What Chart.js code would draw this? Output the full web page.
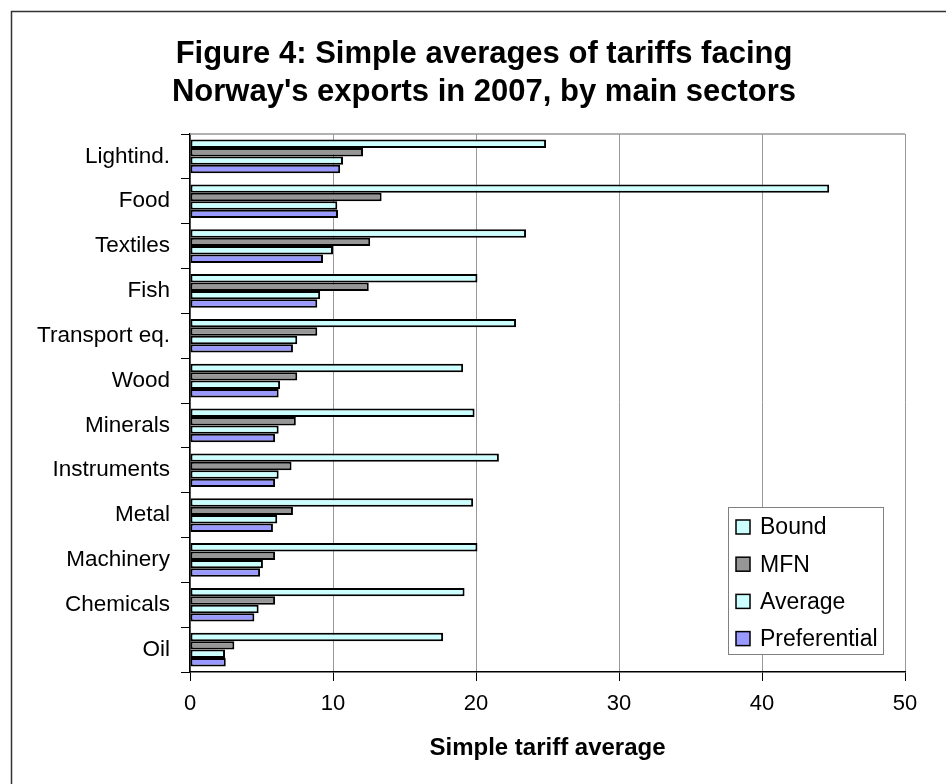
<!DOCTYPE html>
<html>
<head>
<meta charset="utf-8">
<script src="https://cdn.jsdelivr.net/npm/chart.js@4.4.1/dist/chart.umd.min.js"></script>
<style>
html, body { margin: 0; padding: 0; background: #fff; }
canvas { display: block; }
</style>
</head>
<body>
<canvas id="tariffChart" width="946" height="784"></canvas>
<script>
// sectors, top to bottom
const sectors = ['Lightind.', 'Food', 'Textiles', 'Fish', 'Transport eq.', 'Wood',
                 'Minerals', 'Instruments', 'Metal', 'Machinery', 'Chemicals', 'Oil'];

// simple tariff averages (%)
const bound        = [24.9, 44.7, 23.5, 20.1, 22.8, 19.1, 19.9, 21.6, 19.8, 20.1, 19.2, 17.7];
const mfn          = [12.1, 13.4, 12.6, 12.5,  8.9,  7.5,  7.4,  7.1,  7.2,  5.95, 5.95, 3.1];
const average      = [10.7, 10.3, 10.0,  9.1,  7.5,  6.3,  6.2,  6.2,  6.1,  5.1,  4.8,  2.45];
const preferential = [10.5, 10.35, 9.3,  8.9,  7.2,  6.2,  5.95, 5.95, 5.8,  4.9,  4.5,  2.5];

const xMin = 0;
const xMax = 50;
const xStep = 10;

const titleLines = ['Figure 4: Simple averages of tariffs facing',
                    "Norway's exports in 2007, by main sectors"];

const FONT = "'Liberation Sans', Arial, sans-serif";

// frame, title and background
const frameAndTitle = {
    id: 'frameAndTitle',
    beforeDraw(chart) {
        const ctx = chart.ctx;
        ctx.save();
        ctx.fillStyle = '#fff';
        ctx.fillRect(0, 0, chart.width, chart.height);
        ctx.restore();
    },
    afterDraw(chart) {
        const ctx = chart.ctx;
        const area = chart.chartArea;
        ctx.save();
        // outer frame (left and top edges)
        ctx.strokeStyle = '#333';
        ctx.lineWidth = 1.5;
        ctx.beginPath();
        ctx.moveTo(11.5, chart.height);
        ctx.lineTo(11.5, 11.5);
        ctx.lineTo(chart.width, 11.5);
        ctx.stroke();

        // plot area top edge
        ctx.strokeStyle = '#999';
        ctx.lineWidth = 1.5;
        ctx.beginPath();
        ctx.moveTo(area.left, area.top);
        ctx.lineTo(area.right, area.top);
        ctx.stroke();

        // title
        ctx.fillStyle = '#000';
        ctx.font = 'bold 31px ' + FONT;
        ctx.textAlign = 'center';
        ctx.textBaseline = 'middle';
        ctx.fillText(titleLines[0], 484, 54);
        ctx.fillText(titleLines[1], 484, 92);
        ctx.restore();
    }
};

// boxed legend inside the plot area, lower right
const boxLegend = {
    id: 'boxLegend',
    afterDraw(chart) {
        const ctx = chart.ctx;
        const area = chart.chartArea;
        const w = 155, h = 147;
        const x = area.right - 22 - w;
        const y = area.bottom - 18 - h;
        ctx.save();
        ctx.fillStyle = '#fff';
        ctx.fillRect(x, y, w, h);
        ctx.strokeStyle = '#808080';
        ctx.lineWidth = 1;
        ctx.strokeRect(x + 0.5, y + 0.5, w, h);

        ctx.font = '23px ' + FONT;
        ctx.textBaseline = 'middle';
        ctx.textAlign = 'left';
        chart.data.datasets.forEach((ds, i) => {
            const cy = y + 20 + i * 37.2;
            ctx.fillStyle = ds.backgroundColor;
            ctx.fillRect(x + 8, cy - 7, 14, 14);
            ctx.strokeStyle = '#000';
            ctx.lineWidth = 1.5;
            ctx.strokeRect(x + 8, cy - 7, 14, 14);
            ctx.fillStyle = '#000';
            ctx.fillText(ds.label, x + 32, cy + 1);
        });
        ctx.restore();
    }
};

const ctx = document.getElementById('tariffChart').getContext('2d');

const tariffChart = new Chart(ctx, {
    type: 'bar',
    data: {
        labels: sectors,
        datasets: [
            { label: 'Bound',        data: bound,        backgroundColor: '#CCFFFF' },
            { label: 'MFN',          data: mfn,          backgroundColor: '#969696' },
            { label: 'Average',      data: average,      backgroundColor: '#CCFFFF' },
            { label: 'Preferential', data: preferential, backgroundColor: '#9999FF' }
        ]
    },
    options: {
        indexAxis: 'y',
        responsive: false,
        animation: false,
        datasets: {
            bar: {
                categoryPercentage: 0.75,
                barPercentage: 1.0,
                borderColor: '#000',
                borderWidth: 2,
                borderSkipped: false
            }
        },
        layout: {
            padding: { top: 134, left: 0, right: 41, bottom: 0 }
        },
        plugins: {
            legend: { display: false },
            title: { display: false },
            tooltip: { enabled: false }
        },
        scales: {
            x: {
                min: xMin,
                max: xMax,
                ticks: {
                    stepSize: xStep,
                    color: '#000',
                    padding: 10,
                    font: { family: FONT, size: 22 }
                },
                grid: {
                    color: '#999',
                    lineWidth: 1,
                    tickColor: '#000',
                    tickLength: 9
                },
                border: { color: '#000', width: 1.5 },
                title: {
                    display: true,
                    text: 'Simple tariff average',
                    color: '#000',
                    font: { family: FONT, size: 24, weight: 'bold' },
                    padding: { top: 0, bottom: 21 }
                },
                afterFit(scale) { scale.height = 112; }
            },
            y: {
                ticks: {
                    autoSkip: false,
                    color: '#000',
                    padding: 11,
                    font: { family: FONT, size: 22.5 }
                },
                grid: {
                    drawOnChartArea: false,
                    tickColor: '#000',
                    tickLength: 9
                },
                border: { color: '#000', width: 1.5 },
                afterFit(scale) { scale.width = 190; }
            }
        }
    },
    plugins: [frameAndTitle, boxLegend]
});
</script>
</body>
</html>
